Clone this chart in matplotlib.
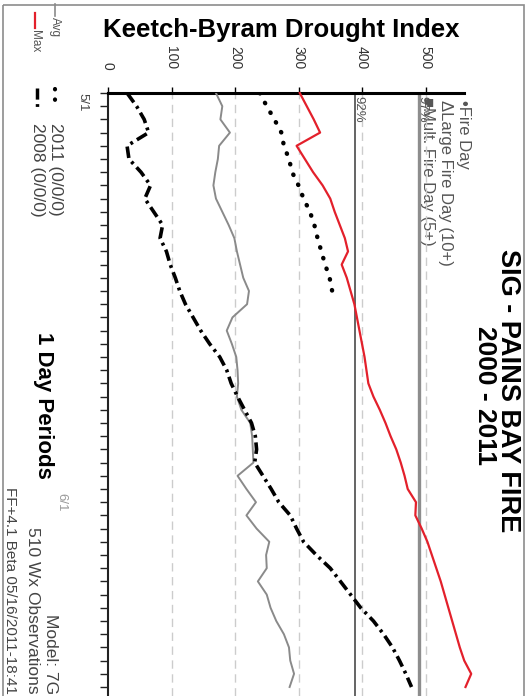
import matplotlib
matplotlib.use("Agg")
import matplotlib.pyplot as plt
from matplotlib.patches import Rectangle

plt.rcParams["font.family"] = ["Liberation Sans", "DejaVu Sans"]

# days after 5/1 (1 day periods)
days = list(range(46))
avg_kbdi = [170, 180, 177, 192, 175, 173, 169, 166, 170, 180, 190, 199, 203, 208, 213, 222,
            219, 196, 187, 195, 202, 204, 205, 203, 210, 224, 227, 228, 229, 204, 218, 233,
            218, 234, 254, 249, 250, 236, 250, 256, 265, 277, 285, 287, 293, 286]
max_kbdi = [302, 313, 324, 334, 297, 310, 323, 338, 350, 357, 365, 373, 378, 368, 376, 382,
            388, 392, 396, 400, 404, 407, 410, 418, 428, 437, 445, 454, 461, 467, 472, 485,
            484, 494, 503, 510, 517, 524, 530, 536, 542, 548, 554, 561, 572, 563]
days_2011 = list(range(16))
kbdi_2011 = [239, 250, 262, 273, 277, 285, 290, 300, 308, 318, 325, 330, 336, 342, 349, 353]
kbdi_2008 = [30, 45, 57, 64, 30, 33, 52, 67, 58, 72, 86, 82, 92, 98, 106, 113,
             122, 134, 146, 160, 176, 187, 194, 204, 215, 226, 232, 234, 231, 244, 257, 269,
             287, 297, 308, 328, 350, 366, 382, 398, 418, 434, 448, 459, 469, 478]

pct_levels = [389, 489]
pct_labels = ["92%", "97%"]
kbdi_ticks = [0, 100, 200, 300, 400, 500]
date_ticks = {0: "5/1", 31: "6/1"}

RED = "#e3202b"
GRAY = "#8a8a8a"
DOT = (0, (0.1, 2.4))
DASHDOT = (0, (3.2, 1.3, 0.8, 1.3))

W, H = 532, 696
fig = plt.figure(figsize=(W / 100, H / 100), dpi=100)

# overlay in pixel coords for frame, legend and labels
ov = fig.add_axes([0, 0, 1, 1])
ov.set_xlim(0, W)
ov.set_ylim(H, 0)
ov.axis("off")
ov.add_patch(Rectangle((3, 5), 521, 720, fill=False, ec="#8c8c8c", lw=1.2))

# rotated chart: KBDI runs left->right, days run top->bottom
x0, y0, x1 = 108, 93, 463.6
ax = fig.add_axes([x0 / W, 0, (x1 - x0) / W, (H - y0) / H])
ax.patch.set_visible(False)
ax.set_xlim(0, 560)
ax.set_ylim((H - y0) / 13.2, 0)

for v in kbdi_ticks[1:]:
    ax.axvline(v, color="#cccccc", lw=1, ls=(0, (6, 4)), zorder=1)
ax.axvline(pct_levels[0], color="#3a3a3a", lw=1.1, zorder=2)
ax.axvline(pct_levels[1], color="#8d8d8d", lw=2.4, zorder=2)
for v, lab in zip(pct_levels, pct_labels):
    ax.text(v - 4, 0.25, lab, rotation=-90, ha="left", va="top", fontsize=9.5, color="#555555")

ax.plot(avg_kbdi, days, color=GRAY, lw=1.4, zorder=3)
ax.plot(max_kbdi, days, color=RED, lw=1.6, zorder=4, clip_on=False)
ax.plot(kbdi_2011, days_2011, color="black", lw=3.2, ls=DOT, dash_capstyle="round", zorder=4)
ax.plot(kbdi_2008, days, color="black", lw=2.6, ls=DASHDOT, zorder=4)

for s in ["right", "bottom"]:
    ax.spines[s].set_visible(False)
ax.spines["top"].set_linewidth(2.2)
ax.spines["left"].set_linewidth(1.5)
ax.spines["left"].set_color("#222222")

ax.xaxis.tick_top()
ax.set_xticks(kbdi_ticks)
ax.set_xticklabels([str(t) for t in kbdi_ticks], rotation=-90, fontsize=10, color="#333333")
ax.tick_params(axis="x", direction="out", length=4, width=1, pad=13)
ax.set_yticks(days)
ax.set_yticklabels([""] * len(days))
ax.tick_params(axis="y", direction="out", length=5.5, width=1, color="#222222")
# date labels: 5/1 hugs the axis, 6/1 sits further out in lighter grey
ax.annotate(date_ticks[0], xy=(0, 0), xytext=(-14, 0), textcoords="offset points",
            rotation=-90, ha="right", va="top", fontsize=9.5, color="#444444")
ax.annotate(date_ticks[31], xy=(0, 31), xytext=(-29, 0), textcoords="offset points",
            rotation=-90, ha="right", va="center", fontsize=9.5, color="#999999")

# texts
ov.text(281, 30, "Keetch-Byram Drought Index", ha="center", va="center",
        fontsize=18.5, weight="bold")
ov.text(508, 391, "SIG - PAINS BAY FIRE", rotation=-90, ha="center", va="center",
        fontsize=19.5, weight="bold")
ov.text(485, 395, "2000 - 2011", rotation=-90, ha="center", va="center",
        fontsize=19, weight="bold")
ov.text(43, 405, "1 Day Periods", rotation=-90, ha="center", va="center",
        fontsize=16, weight="bold")

foot = "#444444"
ov.text(50, 694, "Model: 7G", rotation=-90, ha="center", va="bottom", fontsize=12.5, color=foot)
ov.text(32, 694, "510 Wx Observations", rotation=-90, ha="center", va="bottom",
        fontsize=12.5, color=foot)
ov.text(10, 694, "FF+4.1 Beta 05/16/2011-18:41", rotation=-90, ha="center", va="bottom",
        fontsize=11, color=foot)

# legend (left)
ov.plot([55, 55], [4, 16], color=GRAY, lw=1.2)
ov.text(55, 17, "Avg", rotation=-90, ha="center", va="top", fontsize=8.5, color="#555555")
ov.plot([35, 35], [13, 28], color=RED, lw=1.6)
ov.text(35, 30, "Max", rotation=-90, ha="center", va="top", fontsize=8.5, color="#555555")
ov.plot([55, 55], [89, 108], color="black", lw=3, ls=DOT, dash_capstyle="round")
ov.text(55, 123, "2011 (0/0/0)", rotation=-90, ha="center", va="top", fontsize=12.5,
        color="#444444")
ov.plot([37, 37], [88, 110], color="black", lw=2.5, ls=DASHDOT)
ov.text(37, 123, "2008 (0/0/0)", rotation=-90, ha="center", va="top", fontsize=12.5,
        color="#444444")

# legend (right)
ov.text(463, 100, "\u2022Fire Day", rotation=-90, ha="center", va="top", fontsize=12,
        color="#555555")
ov.text(446, 100, "\u0394Large Fire Day (10+)", rotation=-90, ha="center", va="top",
        fontsize=12, color="#555555")
ov.text(428, 97, "\u25a0Mult. Fire Day (5+)", rotation=-90, ha="center", va="top",
        fontsize=12, color="#555555")

fig.savefig("out.png", dpi=100, facecolor="white")
